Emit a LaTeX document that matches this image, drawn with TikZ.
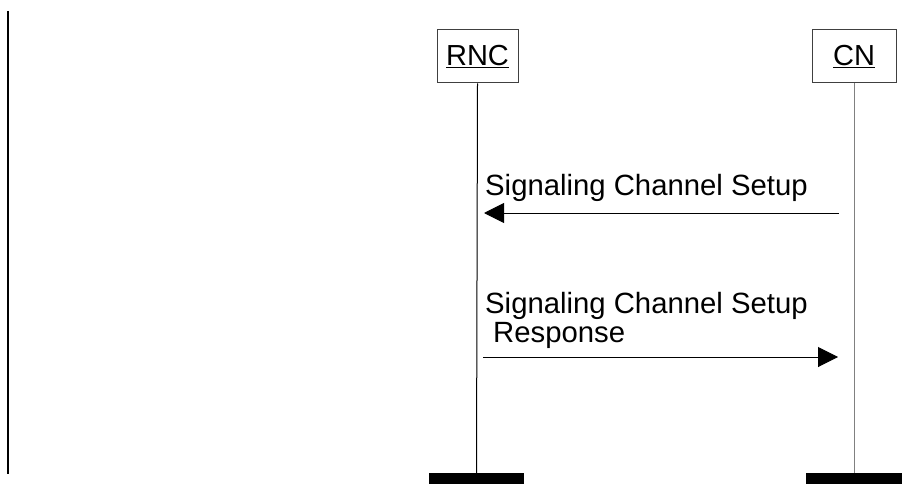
\documentclass[tikz,border=0pt]{standalone}
\usepackage{fontspec}
\setmainfont{Liberation Sans}
\usetikzlibrary{arrows.meta}
\begin{document}
\begin{tikzpicture}[x=1pt,y=-1pt,
  ent/.style={draw=black!75,line width=1pt,fill=white,inner sep=0pt,font=\fontsize{29}{34}\selectfont},
  bar/.style={fill=black,draw=none,inner sep=0pt},
  life/.style={line width=1pt},
  msg/.style={line width=1pt,-{Triangle[length=20pt,width=20pt]}},
  lbl/.style={inner sep=0pt,font=\fontsize{29.3}{29}\selectfont,align=left}]
\useasboundingbox (0,0) rectangle (910,484);
\fill[white] (0,0) rectangle (910,484);
% left border line
\coordinate (lt) at (7.5,11);
\coordinate (lb) at (7.5,474);
\draw[line width=2pt] (lt) -- (lb);
% entities
\node[ent,minimum width=81pt,minimum height=53pt] (rnc) at (477.5,56.5) {\underline{RNC}};
\node[ent,minimum width=84pt,minimum height=53pt] (cn) at (854,56.5) {\underline{CN}};
% bottom bars
\node[bar,minimum width=95pt,minimum height=11pt] (rncbar) at (476.5,478.5) {};
\node[bar,minimum width=96pt,minimum height=11pt] (cnbar) at (854,478.5) {};
% lifelines
\draw[life,black] (rnc.south) -- (rncbar.north);
\draw[life,black!50] (cn.south) -- (cnbar.north);
% messages
\coordinate (m1s) at (839,213);
\coordinate (m1e) at (484,213);
\draw[msg] (m1s) -- (m1e);
\node[lbl,anchor=base west] (t1) at (485,195) {Signaling Channel Setup};
\coordinate (m2s) at (483,357);
\coordinate (m2e) at (838,357);
\draw[msg] (m2s) -- (m2e);
\node[lbl,anchor=base west] (t2) at (485,342) {Signaling Channel Setup\\\hspace*{8pt}Response};
\end{tikzpicture}
\end{document}
